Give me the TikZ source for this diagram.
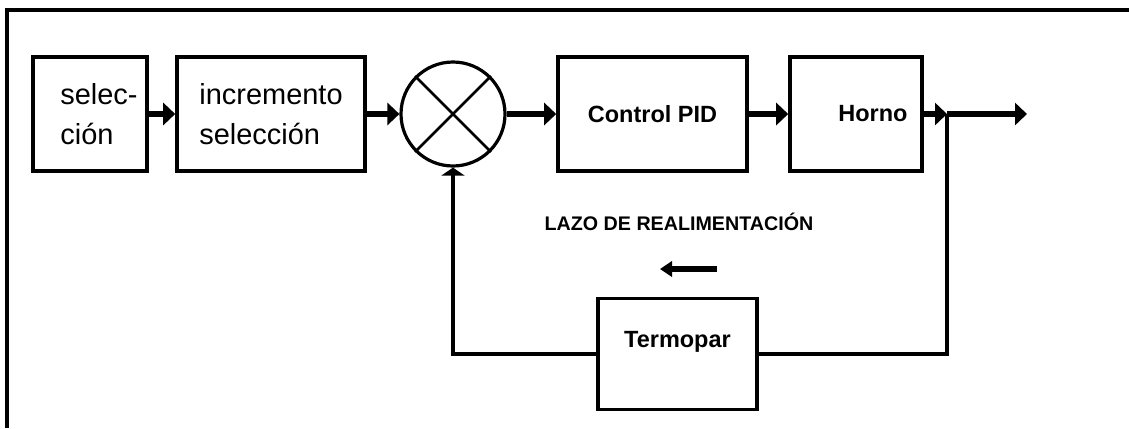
\documentclass[tikz,border=0pt]{standalone}
\usepackage{fontspec}
\setmainfont{Liberation Sans}
\usetikzlibrary{shapes}
\usetikzlibrary{arrows.meta}

\begin{document}
\begin{tikzpicture}[line join=miter]

\tikzset{block/.style = {shape=rectangle,draw,line width=0.09cm,minimum height=2.85cm,align=left,font=\fontsize{20.6}{28}\selectfont}}
\tikzset{bblock/.style = {block,font=\fontsize{16.7}{20}\selectfont\bfseries}}
\tikzset{edge/.style = {-{Triangle[length=0.3cm,width=0.55cm]},line width=0.14cm}}
\tikzset{fback/.style = {line width=0.09cm}}

\useasboundingbox (0,0) rectangle (28.225,-10.7);
% frame
\draw[line width=0.1cm] (0.175,-10.7) -- (0.175,-0.25) -- (28.225,-0.25);

% vertices
\node[block,minimum width=2.85cm] (sel) at (2.25,-2.85) {\hspace*{0.45cm}selec-\\\hspace*{0.45cm}ción};
\node[block,minimum width=4.7cm] (inc) at (6.775,-2.85) {incremento\\selección};
\node[shape=circle,draw,line width=0.08cm,minimum size=2.6cm] (sum) at (11.325,-2.85) {};
\node[bblock,minimum width=4.725cm] (pid) at (16.3125,-2.85) {Control PID};
\node[bblock,minimum width=3.3cm] (horno) at (21.4,-2.85) {\hspace*{0.85cm}Horno};
\node[bblock,minimum width=3.975cm,minimum height=2.775cm,text depth=0.72cm] (termo) at (16.9375,-8.85) {Termopar};
\node[font=\fontsize{14}{16}\selectfont\bfseries] (lazo) at (16.975,-5.55) {LAZO DE REALIMENTACIÓN};
\coordinate (branch) at (23.675,-2.85);
\coordinate (out) at (25.675,-2.85);
\coordinate (dirA) at (17.925,-6.725);
\coordinate (dirB) at (16.5,-6.725);

% cross in the summing point
\draw[line width=0.07cm] (sum.north west) -- (sum.south east);
\draw[line width=0.07cm] (sum.north east) -- (sum.south west);

%edges
\draw[edge] (sel) -- (inc);
\draw[edge] (inc) -- (sum);
\draw[edge] (sum) -- (pid);
\draw[edge] (pid) -- (horno);
\draw[edge] (horno) -- (branch);
\draw[edge] (branch) -- (out);
\draw[fback] (branch) |- (termo);
\draw[fback,-{Triangle[length=0.2cm,width=0.575cm]}] (termo) -| (sum);
\draw[line width=0.13cm,-{Triangle[length=0.3cm,width=0.38cm]}] (dirA) -- (dirB);
\end{tikzpicture}
\end{document}
